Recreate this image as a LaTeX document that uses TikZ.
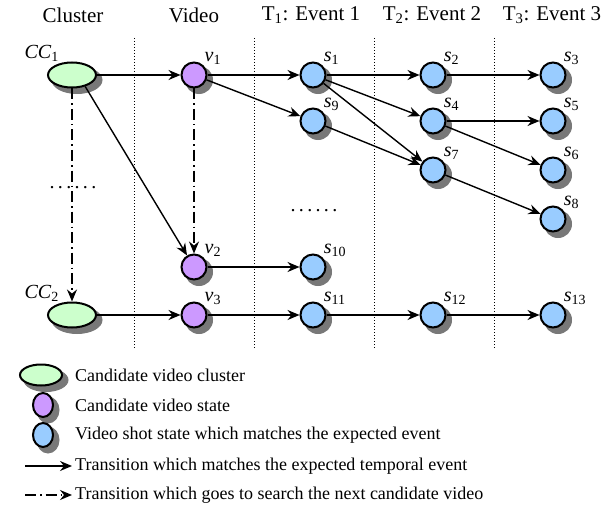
\documentclass[tikz,border=0pt]{standalone}
\usepackage{fontspec}
\setmainfont{Liberation Serif}
\usetikzlibrary{%
  arrows.meta,%
  shapes,%
  positioning% wg. " of "
}
\definecolor{cgreen}{RGB}{204,255,204}
\definecolor{cpurple}{RGB}{204,153,255}
\definecolor{cblue}{RGB}{153,204,255}
\definecolor{cshadow}{RGB}{120,120,120}
\newcommand{\lab}[2]{\textit{#1}\textsubscript{#2}}

\begin{document}
\begin{tikzpicture}
[x=1pt, y=-1pt, font=\fontsize{21}{25}\selectfont, >={Stealth[length=12pt,width=10pt,inset=4pt]},
state/.style={draw, line width=2pt, inner sep=0pt},
cluster/.style={state, ellipse, fill=cgreen, minimum width=48pt, minimum height=25pt},
vstate/.style={state, circle, fill=cpurple, minimum size=25pt},
shot/.style={state, circle, fill=cblue, minimum size=25pt},
shdw/.style={fill=cshadow, draw=cshadow, line width=1pt},
lbl/.style={font=\fontsize{20}{24}\selectfont, inner sep=1pt},
trans/.style={->, line width=1.4pt},
search/.style={->, line width=1.4pt, dash pattern=on 11pt off 4pt on 1.5pt off 4pt},
sep/.style={dotted, line width=1pt},
legend/.style={anchor=west, inner sep=0pt, font=\fontsize{18}{22}\selectfont}]

\useasboundingbox (0,0) rectangle (613,508);

\node (hclu) at (73,15) {Cluster};
\node (hvid) at (194,15) {Video};
\node (hev1) at (311,15) {T\textsubscript{1}: Event 1};
\node (hev2) at (432,15) {T\textsubscript{2}: Event 2};
\node (hev3) at (552,15) {T\textsubscript{3}: Event 3};

\foreach \x in {134,254,374,494} {
  \draw[sep] (\x,38) -- (\x,348);
}

\foreach \c/\y in {1/75, 2/315} {
  \filldraw[shdw] (77,\y+5) ellipse[x radius=25, y radius=13.5];
  \node[cluster, label={[lbl]above left:\lab{CC}{\c}}] (cc\c) at (72,\y) {};
}

\foreach \n/\x/\y in {1/194/75, 2/194/267, 3/194/315} {
  \filldraw[shdw] (\x+5,\y+5) circle[radius=13.5];
  \node[vstate, label={[lbl]above right:\lab{v}{\n}}] (v\n) at (\x,\y) {};
}

\foreach \n/\x/\y in {1/313/75, 9/313/121, 10/313/267, 11/313/315,
                      2/433/75, 4/433/121, 7/433/170, 12/433/315,
                      3/553/75, 5/553/121, 6/553/170, 8/553/219, 13/553/315} {
  \filldraw[shdw] (\x+5,\y+5) circle[radius=13.5];
  \node[shot, label={[lbl]above right:\lab{s}{\n}}] (s\n) at (\x,\y) {};
}

\node[lbl] (dots1) at (73,188) {.\,.\,.\,.\,.\,.};
\node[lbl] (dots2) at (314,211) {.\,.\,.\,.\,.\,.};

\foreach \a/\b in {cc1/v1, v1/s1, v1/s9, s1/s2, s1/s4, s1/s7, s9/s7, s2/s3, s4/s5,
                   s4/s6, s7/s8, v2/s10, cc2/v3, v3/s11, s11/s12, s12/s13} {
  \draw[trans] (\a) -- (\b);
}
\draw[trans] (cc1.-41) -- (v2);

\draw[search] (cc1) -- (cc2);
\draw[search] (v1) -- (v2);

% legend
\filldraw[shdw] (46,380) ellipse[x radius=22, y radius=11.5];
\filldraw[shdw] (48,410) ellipse[x radius=11, y radius=13];
\filldraw[shdw] (48,440) ellipse[x radius=11, y radius=13];
\node[cluster, minimum width=42pt, minimum height=21pt] (lgclu) at (41,375) {};
\node[vstate, ellipse, minimum width=20pt, minimum height=24pt] (lgvid) at (43,405) {};
\node[shot, ellipse, minimum width=20pt, minimum height=24pt] (lgshot) at (43,435) {};

\node[legend] (lt1) at (75,375) {Candidate video cluster};
\node[legend] (lt2) at (75,405) {Candidate video state};
\node[legend] (lt3) at (75,435) {Video shot state which matches the expected event};
\node[legend] (lt4) at (75,466) {Transition which matches the expected temporal event};
\node[legend] (lt5) at (75,495) {Transition which goes to search the next candidate video};

\coordinate (la4) at (25,466);
\coordinate (la5) at (25,495);
\draw[trans, shorten >=3pt] (la4) -- (lt4.west);
\draw[search, shorten >=3pt] (la5) -- (lt5.west);
\end{tikzpicture}
\end{document}
